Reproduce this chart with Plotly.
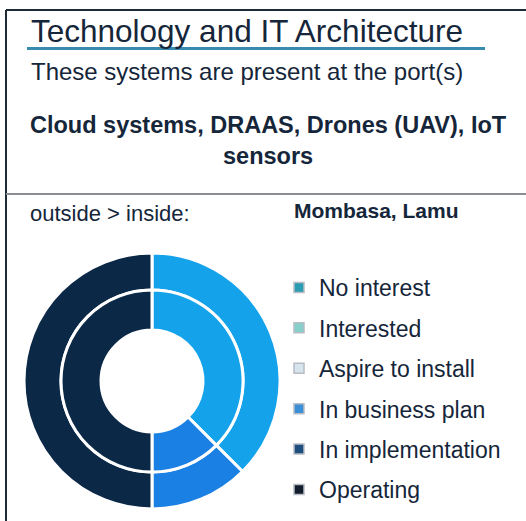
import plotly.graph_objects as go

W, H = 526, 521

categories = ['No interest', 'Interested', 'Aspire to install',
              'In business plan', 'In implementation', 'Operating']
mombasa = [0, 0, 0, 3, 1, 4]   # outer ring
lamu = [0, 0, 0, 3, 1, 4]      # inner ring
slice_colors = ['#2a9db5', '#86d0cc', '#d6e4ee', '#14a2ea', '#1a80e3', '#0b2847']
swatch_colors = ['#2a9db5', '#86d0cc', '#d6e4ee', '#3a8fd6', '#1d4e7e', '#111d2d']

TEXT = '#15263a'
FONT = 'Arial, Liberation Sans, sans-serif'


def px(x):
    return x / W


def py(y):
    return 1 - y / H


cx, cy, R = 152, 381, 128
r_mid = 91
r_hole = 51

fig = go.Figure()

fig.add_trace(go.Pie(
    labels=categories, values=mombasa, name='Mombasa',
    domain=dict(x=[px(cx - R), px(cx + R)], y=[py(cy + R), py(cy - R)]),
    hole=r_mid / R, sort=False, direction='clockwise', rotation=0,
    marker=dict(colors=slice_colors, line=dict(color='white', width=3)),
    textinfo='none', showlegend=False
))

fig.add_trace(go.Pie(
    labels=categories, values=lamu, name='Lamu',
    domain=dict(x=[px(cx - r_mid), px(cx + r_mid)], y=[py(cy + r_mid), py(cy - r_mid)]),
    hole=r_hole / r_mid, sort=False, direction='clockwise', rotation=0,
    marker=dict(colors=slice_colors, line=dict(color='white', width=3)),
    textinfo='none', showlegend=False
))

# legend entries
for cat, col in zip(categories, swatch_colors):
    fig.add_trace(go.Scatter(
        x=[None], y=[None], mode='markers', name=cat, legendgroup=cat,
        marker=dict(symbol='square', size=10, color=col,
                    line=dict(color='#b8bcc4', width=1.5))
    ))

shapes = [
    dict(type='line', x0=px(6), x1=px(W), y0=py(10), y1=py(10),
         line=dict(color='#1e2a38', width=2)),
    dict(type='line', x0=px(6), x1=px(6), y0=py(10), y1=py(H),
         line=dict(color='#1e2a38', width=2)),
    dict(type='line', x0=px(27), x1=px(485), y0=py(48.5), y1=py(48.5),
         line=dict(color='#3a8ab0', width=3)),
    dict(type='line', x0=px(6), x1=px(W), y0=py(194), y1=py(194),
         line=dict(color='#8a8d92', width=2)),
]
for s in shapes:
    s.update(xref='paper', yref='paper')

annotations = [
    dict(text='Technology and IT Architecture', x=px(29), y=py(31),
         xanchor='left', yanchor='middle', font=dict(size=31.5, color=TEXT)),
    dict(text='These systems are present at the port(s)', x=px(29), y=py(71),
         xanchor='left', yanchor='middle', font=dict(size=24, color=TEXT)),
    dict(text='<b>Cloud systems, DRAAS, Drones (UAV), IoT<br>sensors</b>',
         x=px(268), y=py(141), xanchor='center', yanchor='middle',
         font=dict(size=23.5, color=TEXT)),
    dict(text='outside > inside:', x=px(28), y=py(213),
         xanchor='left', yanchor='middle', font=dict(size=22, color=TEXT)),
    dict(text='<b>Mombasa, Lamu</b>', x=px(292), y=py(210),
         xanchor='left', yanchor='middle', font=dict(size=21, color=TEXT)),
]
for a in annotations:
    a.update(xref='paper', yref='paper', showarrow=False)

fig.update_layout(
    width=W, height=H,
    margin=dict(l=0, r=0, t=0, b=0),
    paper_bgcolor='white', plot_bgcolor='white',
    font=dict(family=FONT, color=TEXT),
    xaxis=dict(visible=False), yaxis=dict(visible=False),
    shapes=shapes, annotations=annotations,
    legend=dict(x=px(279), y=py(266), xanchor='left', yanchor='top',
                font=dict(size=23, color=TEXT), tracegroupgap=7.5,
                bgcolor='rgba(0,0,0,0)'),
    showlegend=True
)

fig.write_html('out.html', config={'displayModeBar': False},
               post_script="document.body.style.margin = '0';")
